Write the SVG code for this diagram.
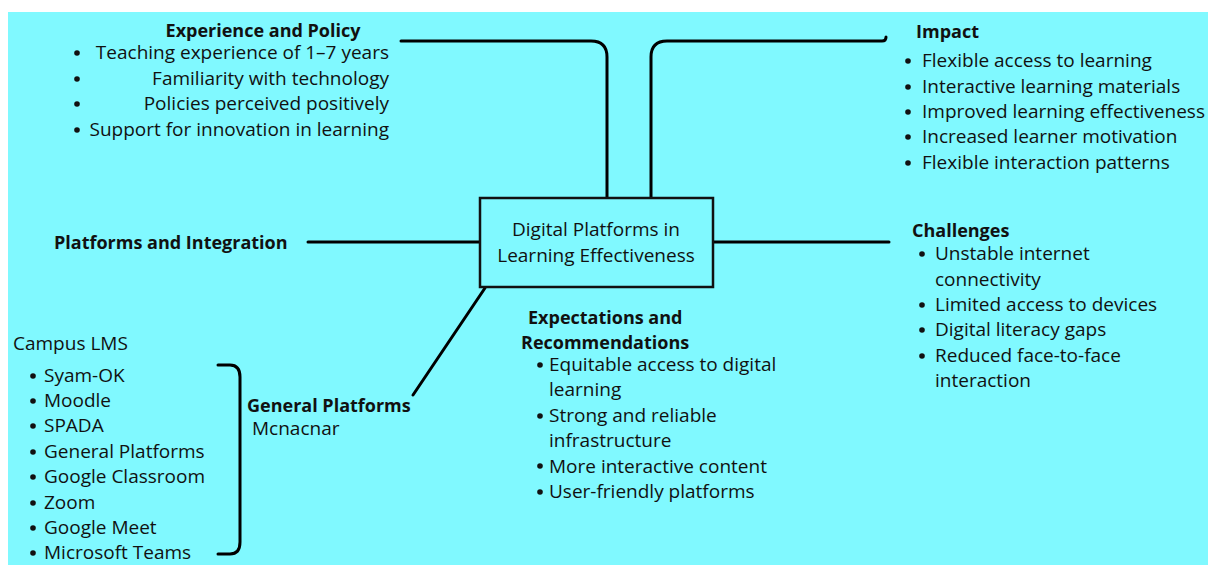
<svg xmlns="http://www.w3.org/2000/svg" width="1208" height="565" viewBox="0 0 1208 565">
  <style>
    text { font-family: "Open Sans", "Noto Sans", "Liberation Sans", sans-serif; fill: #111; font-size: 19px; }
    .h { font-weight: bold; font-size: 18px; }
    .line { fill: none; stroke: #000; stroke-width: 3; stroke-linecap: round; stroke-linejoin: round; }
    .box { fill: #80F9FF; stroke: #111; stroke-width: 2.5; }
    .dot { fill: #111; }
  </style>
  <rect x="0" y="0" width="1208" height="565" fill="#fff"/>
  <rect x="8" y="12" width="1200" height="553" fill="#80F9FF"/>

  <g id="connectors">
    <path class="line" d="M401 41 H591 Q607 41 607 57 V198"/>
    <path class="line" d="M651 198 V57 Q651 41 667 41 H882 Q886 41 886 37"/>
    <path class="line" d="M308 242 H480"/>
    <path class="line" d="M713 242 H889"/>
    <path class="line" d="M485 288 L413 395"/>
    <path class="line" d="M218 365 H230 Q240 365 240 377 V542 Q240 554 230 554 H218"/>
  </g>

  <g id="center">
    <rect class="box" x="480" y="198" width="233" height="89"/>
    <text x="596" y="236" text-anchor="middle">Digital Platforms in</text>
    <text x="596" y="262" text-anchor="middle">Learning Effectiveness</text>
  </g>

  <g id="experience-policy">
    <text class="h" x="263" y="37" text-anchor="middle">Experience and Policy</text>
    <circle class="dot" cx="77" cy="53" r="2.8"/>
    <circle class="dot" cx="77" cy="79" r="2.8"/>
    <circle class="dot" cx="77" cy="104" r="2.8"/>
    <circle class="dot" cx="77" cy="130" r="2.8"/>
    <text x="389" y="59" text-anchor="end">Teaching experience of 1–7 years</text>
    <text x="389" y="85" text-anchor="end">Familiarity with technology</text>
    <text x="389" y="110" text-anchor="end">Policies perceived positively</text>
    <text x="389" y="136" text-anchor="end">Support for innovation in learning</text>
  </g>

  <g id="impact">
    <text class="h" x="916" y="38">Impact</text>
    <circle class="dot" cx="908" cy="61" r="2.8"/>
    <circle class="dot" cx="908" cy="87" r="2.8"/>
    <circle class="dot" cx="908" cy="112" r="2.8"/>
    <circle class="dot" cx="908" cy="137" r="2.8"/>
    <circle class="dot" cx="908" cy="163" r="2.8"/>
    <text x="922" y="67">Flexible access to learning</text>
    <text x="922" y="93">Interactive learning materials</text>
    <text x="922" y="118">Improved learning effectiveness</text>
    <text x="922" y="143">Increased learner motivation</text>
    <text x="922" y="169">Flexible interaction patterns</text>
  </g>

  <g id="platforms-integration">
    <text class="h" x="54" y="249">Platforms and Integration</text>
  </g>

  <g id="challenges">
    <text class="h" x="912" y="237">Challenges</text>
    <circle class="dot" cx="922" cy="254" r="2.8"/>
    <circle class="dot" cx="922" cy="305" r="2.8"/>
    <circle class="dot" cx="922" cy="330" r="2.8"/>
    <circle class="dot" cx="922" cy="356" r="2.8"/>
    <text x="935" y="260">Unstable internet</text>
    <text x="935" y="286">connectivity</text>
    <text x="935" y="311">Limited access to devices</text>
    <text x="935" y="336">Digital literacy gaps</text>
    <text x="935" y="362">Reduced face-to-face</text>
    <text x="935" y="387">interaction</text>
  </g>

  <g id="expectations">
    <text class="h" x="528" y="324">Expectations and</text>
    <text class="h" x="521" y="349">Recommendations</text>
    <circle class="dot" cx="540" cy="365" r="2.8"/>
    <circle class="dot" cx="540" cy="416" r="2.8"/>
    <circle class="dot" cx="540" cy="466" r="2.8"/>
    <circle class="dot" cx="540" cy="492" r="2.8"/>
    <text x="549" y="371">Equitable access to digital</text>
    <text x="549" y="396">learning</text>
    <text x="549" y="422">Strong and reliable</text>
    <text x="549" y="447">infrastructure</text>
    <text x="549" y="473">More interactive content</text>
    <text x="549" y="498">User-friendly platforms</text>
  </g>

  <g id="campus-lms">
    <text x="13" y="350">Campus LMS</text>
    <circle class="dot" cx="33" cy="376" r="2.8"/>
    <circle class="dot" cx="33" cy="401" r="2.8"/>
    <circle class="dot" cx="33" cy="426" r="2.8"/>
    <circle class="dot" cx="33" cy="452" r="2.8"/>
    <circle class="dot" cx="33" cy="477" r="2.8"/>
    <circle class="dot" cx="33" cy="503" r="2.8"/>
    <circle class="dot" cx="33" cy="528" r="2.8"/>
    <circle class="dot" cx="33" cy="553" r="2.8"/>
    <text x="44" y="382">Syam-OK</text>
    <text x="44" y="407">Moodle</text>
    <text x="44" y="432">SPADA</text>
    <text x="44" y="458">General Platforms</text>
    <text x="44" y="483">Google Classroom</text>
    <text x="44" y="509">Zoom</text>
    <text x="44" y="534">Google Meet</text>
    <text x="44" y="559">Microsoft Teams</text>
  </g>

  <g id="general-platforms">
    <text class="h" x="247" y="412">General Platforms</text>
    <text x="252" y="435">Mcnacnar</text>
  </g>
</svg>
